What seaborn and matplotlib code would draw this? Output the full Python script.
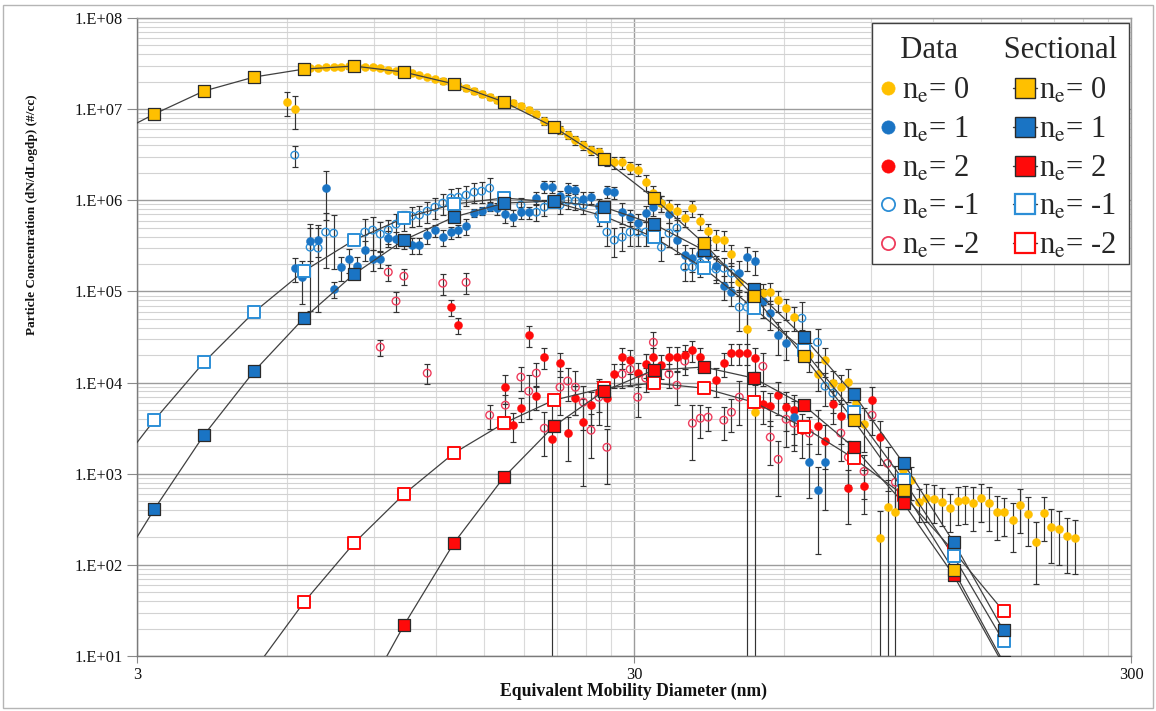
import numpy as np
import pandas as pd
import matplotlib
matplotlib.use("Agg")
import matplotlib.pyplot as plt
import matplotlib.ticker as mticker
from matplotlib.lines import Line2D
from matplotlib.patches import Rectangle
import seaborn as sns

# ---------------- Sectional model (bin diameters in nm, dN/dlogdp) ----------------
sect_diam = [2.575, 3.25, 4.09, 5.16, 6.50, 8.20, 10.33, 13.02, 16.42, 20.69,
             26.08, 32.88, 41.44, 52.24, 65.85, 83.0, 104.6, 131.9, 166.2]
sect_ne0 = [4.58e6, 8.83e6, 1.58e7, 2.25e7, 2.75e7, 2.97e7, 2.55e7, 1.89e7, 1.20e7, 6.37e6,
            2.83e6, 1.06e6, 3.39e5, 8.87e4, 1.95e4, 3.87e3, 659, 87, 8.5]
sect_ne1 = [52.6, 407, 2.65e3, 1.33e4, 5.09e4, 1.55e5, 3.66e5, 6.54e5, 9.32e5, 9.8e5,
            8.42e5, 5.48e5, 2.84e5, 1.06e5, 3.15e4, 7.46e3, 1.30e3, 177, 19.1]
sect_ne2 = [None, None, None, None, None, 2.23, 21.7, 173, 916, 3.32e3,
            8.05e3, 1.37e4, 1.48e4, 1.12e4, 5.65e3, 1.95e3, 474, 76.9, 7.9]
sect_nem1 = [748, 3.87e3, 1.67e4, 5.93e4, 1.67e5, 3.66e5, 6.38e5, 9.08e5, 1.06e6, 9.55e5,
             6.71e5, 3.94e5, 1.80e5, 6.56e4, 2.27e4, 4.73e3, 849, 124, 14.5]
sect_nem2 = [None, None, None, 6.97, 38.8, 173, 596, 1.68e3, 3.58e3, 6.41e3,
             8.69e3, 9.85e3, 8.69e3, 6.09e3, 3.24e3, 1.48e3, 581, 141, 31]

# ---------------- Measured data (instrument channel diameters, nm) ----------------
diam = [6.00, 6.23, 6.45, 6.69, 6.94, 7.19, 7.46, 7.73, 8.02, 8.31,
        8.62, 8.94, 9.26, 9.61, 9.96, 10.33, 10.71, 11.10, 11.51, 11.93,
        12.37, 12.84, 13.29, 13.78, 14.30, 14.81, 15.37, 15.93, 16.53, 17.12,
        17.76, 18.42, 19.08, 19.80, 20.52, 21.29, 22.07, 22.87, 23.72, 24.58,
        25.49, 26.46, 27.38, 28.39, 29.47, 30.52, 31.67, 32.82, 34.06, 35.28,
        36.60, 37.95, 39.32, 40.80, 42.28, 43.87, 45.48, 47.12, 48.87, 50.65,
        52.5, 54.5, 56.4, 58.5, 60.7, 62.9, 65.3, 67.6, 70.2, 72.7,
        75.4, 78.2, 81.0, 84.1, 87.1, 90.4, 93.7, 97.1, 100.7, 104.4,
        108.2, 112.3, 116.2, 120.5, 125.1, 129.6, 134.5, 139.3, 144.6, 149.8,
        155.4, 161.1, 166.9, 173.3, 179.5, 186.3, 193.1, 200.1, 207.5, 215.1,
        223.0, 231.2]
N = None
data_ne0 = [1.20e7, 1.00e7, 2.75e7, 2.83e7, 2.83e7, 2.90e7, 2.90e7, 2.90e7, 2.97e7, 2.97e7,
            2.90e7, 2.90e7, 2.83e7, 2.69e7, 2.62e7, 2.49e7, 2.49e7, 2.37e7, 2.25e7, 2.14e7,
            2.03e7, 1.93e7, 1.79e7, 1.71e7, 1.58e7, 1.47e7, 1.36e7, 1.26e7, 1.23e7, 1.17e7,
            1.08e7, 9.77e6, 8.83e6, 7.40e6, 6.37e6, 5.90e6, 5.20e6, 4.58e6, 4.04e6, 3.56e6,
            3.38e6, 2.83e6, 2.62e6, 2.62e6, 2.31e6, 2.15e6, 1.58e6, 1.20e6, 9.31e5, 8.41e5,
            7.60e5, 6.38e5, 8.20e5, 5.91e5, 4.59e5, 3.75e5, 3.66e5, 2.56e5, 1.26e5, 3.85e4,
            4.73e3, 9.58e4, 9.82e4, 8.03e4, 6.56e4, 5.22e4, 2.92e4, 2.00e4, 1.24e4, 1.76e4,
            9.85e3, 8.89e3, 1.01e4, 5.94e3, 3.49e3, N, 196, 429, 378, 1.09e3,
            849, 486, 538, 525, 486, 418, 499, 512, 474, 538,
            474, 378, 378, 309, 451, 359, 177, 368, 259, 246,
            206, 196]
rel_ne0 = [0.3, 0.4, 0.06, 0.06, 0.06, 0.06, 0.06, 0.06, 0.06, 0.06,
           0.06, 0.06, 0.06, 0.06, 0.06, 0.06, 0.06, 0.06, 0.06, 0.06,
           0.07, 0.07, 0.07, 0.07, 0.07, 0.07, 0.07, 0.07, 0.07, 0.07,
           0.08, 0.08, 0.08, 0.1, 0.1, 0.1, 0.1, 0.12, 0.12, 0.12,
           0.12, 0.15, 0.15, 0.15, 0.15, 0.15, 0.2, 0.2, 0.2, 0.2,
           0.2, 0.2, 0.2, 0.2, 0.2, 0.25, 0.25, 0.25, 0.3, 1.0,
           1.0, 0.25, 0.25, 0.25, 0.25, 0.3, 0.3, 0.35, 0.35, 0.35,
           0.35, 0.35, 0.4, 0.4, 0.5, N, 1.0, 1.0, 1.0, 0.35,
           0.4, 0.4, 0.45, 0.45, 0.45, 0.45, 0.45, 0.45, 0.5, 0.45,
           0.5, 0.5, 0.45, 0.55, 0.5, 0.55, 0.65, 0.5, 0.6, 0.6,
           0.6, 0.6]
data_ne1 = [N, 1.80e5, 1.44e5, 3.56e5, 3.66e5, 1.36e6, 1.06e5, 1.85e5, 2.26e5, 1.90e5,
            2.84e5, 2.26e5, 2.26e5, 3.85e5, 3.75e5, 3.48e5, 3.22e5, 3.22e5, 4.15e5, 4.71e5,
            3.94e5, 4.48e5, 4.71e5, 5.21e5, 7.24e5, 7.60e5, 8.41e5, 8.20e5, 7.06e5, 6.54e5,
            7.41e5, 7.41e5, 1.06e6, 1.43e6, 1.40e6, 1.11e6, 1.33e6, 1.29e6, 1.03e6, 1.08e6,
            8.63e5, 1.26e6, 1.23e6, 7.41e5, 6.54e5, 5.62e5, 7.24e5, 8.41e5, 9.31e5, 7.06e5,
            3.66e5, 2.50e5, 2.32e5, 2.56e5, 2.50e5, 1.90e5, 1.14e5, 9.82e4, 1.59e5, 2.38e5,
            2.15e5, 7.83e4, 5.78e4, 3.31e4, 2.70e4, 4.17e3, N, 1.34e3, 659, 1.34e3] + [N] * 32
rel_ne1 = [N, 0.3, 0.5, 0.4, 0.35, 0.55, 0.2, 0.3, 0.3, 0.25,
           0.25, 0.25, 0.2, 0.2, 0.2, 0.15, 0.2, 0.2, 0.2, 0.15,
           0.2, 0.15, 0.15, 0.2, 0.1, 0.1, 0.1, 0.15, 0.2, 0.2,
           0.15, 0.15, 0.15, 0.15, 0.15, 0.15, 0.15, 0.15, 0.2, 0.15,
           0.2, 0.15, 0.15, 0.25, 0.2, 0.25, 0.2, 0.2, 0.2, 0.2,
           0.3, 0.3, 0.3, 0.3, 0.3, 0.3, 0.3, 0.3, 0.35, 0.3,
           0.3, 0.35, 0.35, 0.4, 0.35, 0.5, N, 0.6, 0.8, 0.7] + [N] * 32
data_ne2 = [N] * 20 + [
            N, 6.73e4, 4.27e4, N, N, N, N, N, 8.89e3, 3.40e3,
            5.24e3, 3.31e4, 7.10e3, 1.90e4, 2.39e3, 1.63e4, 2.79e3, 6.75e3, 3.67e3, 5.65e3,
            7.85e3, 6.75e3, 1.24e4, 1.90e4, 1.76e4, 1.27e4, 1.59e4, 1.90e4, 1.55e4, 1.90e4,
            1.90e4, 2.00e4, 2.27e4, 1.90e4, N, 1.06e4, 1.63e4, 2.10e4, 2.10e4, 2.10e4,
            1.85e4, 5.79e3, 5.51e3, 7.28e3, 5.37e3, 4.98e3, 3.00e3, N, 3.32e3, 2.28e3,
            5.79e3, 4.28e3, 693, N, 729, 6.41e3, 2.52e3, N, N, N] + [N] * 22
rel_ne2 = [N] * 20 + [
           N, 0.2, 0.2, N, N, N, N, N, 0.35, 0.35,
           0.3, 0.25, 0.3, 0.25, 1.5, 0.3, 0.5, 0.35, 0.8, 0.4,
           0.4, 0.5, 0.3, 0.25, 0.3, 0.3, 0.3, 0.25, 0.3, 0.3,
           0.3, 0.3, 0.25, 0.25, N, 0.35, 0.3, 0.25, 0.25, 0.25,
           0.3, 0.4, 0.4, 0.4, 0.45, 0.45, 0.5, N, 0.5, 0.5,
           0.4, 0.5, 0.6, N, 0.5, 0.4, 0.5, N, N, N] + [N] * 22
data_nem1 = [N, 3.13e6, N, 3.06e5, 2.99e5, 4.48e5, 4.36e5, N, N, N,
             4.48e5, 4.71e5, 4.26e5, 4.71e5, 5.48e5, 6.07e5, 6.71e5, 6.88e5, 7.60e5, 8.41e5,
             9.31e5, 1.06e6, 1.08e6, 1.14e6, 1.23e6, 1.26e6, 1.36e6, N, 1.00e6, N,
             8.86e5, N, 7.41e5, 8.41e5, N, 8.86e5, 1.00e6, 9.80e5, 8.86e5, N,
             6.88e5, 4.48e5, 3.66e5, 3.94e5, 4.48e5, 4.48e5, 4.48e5, N, 3.06e5, 4.36e5,
             4.95e5, 1.85e5, 1.85e5, 2.05e5, N, 1.76e5, 1.80e5, 1.59e5, 6.73e4, 6.73e4,
             N, N, N, N, N, N, 5.09e4, N, 2.77e4, 9.12e3,
             7.65e3] + [N] * 31
rel_nem1 = [N, 0.25, N, 0.8, 0.8, 0.6, 0.6, N, N, N,
            0.4, 0.4, 0.35, 0.3, 0.3, 0.25, 0.25, 0.25, 0.25, 0.25,
            0.25, 0.25, 0.25, 0.25, 0.25, 0.25, 0.3, N, 0.2, N,
            0.2, N, 0.2, 0.2, N, 0.2, 0.2, 0.2, 0.2, N,
            0.25, 0.3, 0.35, 0.3, 0.3, 0.3, 0.3, N, 0.3, 0.3,
            0.3, 0.3, 0.3, 0.3, N, 0.3, 0.3, 0.3, 0.45, 0.45,
            N, N, N, N, N, N, 0.5, N, 0.4, 0.4,
            0.4] + [N] * 31
data_nem2 = [N] * 10 + [
             N, N, 2.45e4, 1.63e5, 7.83e4, 1.47e5, N, N, 1.27e4, N,
             1.23e5, N, N, 1.26e5, N, N, 4.39e3, N, 5.65e3, N,
             1.15e4, 8.05e3, 1.27e4, 3.16e3, N, 8.89e3, 1.04e4, 8.89e3, 6.09e3, 3.00e3,
             6.92e3, 1.95e3, N, 1.24e4, 1.40e4, 6.92e3, 1.12e4, 2.77e4, N, 1.24e4,
             9.35e3, 1.72e4, 3.58e3, 4.06e3, 4.17e3, N, 3.87e3, 4.73e3, 6.92e3, N,
             N, 1.51e4, 2.52e3, 1.44e3, 3.96e3, 3.58e3, N, 2.79e3, N, N,
             N, 2.79e3, 1.52e3, N, 1.06e3, 4.39e3, N, 1.30e3, 807, N] + [N] * 22
rel_nem2 = [N] * 10 + [
            N, N, 0.2, 0.2, 0.25, 0.2, N, N, 0.25, N,
            0.25, N, N, 0.25, N, N, 0.3, N, 0.3, N,
            0.3, 0.5, 0.3, 0.5, N, 0.5, 0.4, 0.5, 0.5, 0.5,
            0.5, 0.6, N, 0.3, 0.35, 0.4, 0.3, 0.3, N, 0.3,
            0.4, 0.3, 0.6, 0.4, 0.3, N, 0.4, 0.4, 0.5, N,
            N, 0.4, 0.5, 0.6, 0.5, 0.5, N, 0.5, N, N,
            N, 0.5, 0.5, N, 0.5, 0.4, N, 0.5, 0.5, N] + [N] * 22

labels = ["0", "1", "2", "-1", "-2"]
y_ticks = [1e1, 1e2, 1e3, 1e4, 1e5, 1e6, 1e7, 1e8]
x_ticks = [3, 30, 300]

# ---------------- Styling ----------------
YEL = "#FFC000"
BLU = "#1A74C4"
RED = "#FF0A0A"
BLU_O = "#2C8ED6"
RED_O = "#EE3C5C"
LINE = "#404040"

sns.set_theme(style="white")
plt.rcParams["font.family"] = ["Liberation Serif", "DejaVu Serif"]
plt.rcParams["mathtext.fontset"] = "stix"

fig = plt.figure(figsize=(11.56, 7.11), dpi=100)
ax = fig.add_axes([137 / 1156, 55 / 711, 994 / 1156, 638 / 711])
ax.set_xscale("log")
ax.set_yscale("log")
ax.set_xlim(3, 300)
ax.set_ylim(10, 1e8)

# grid
ax.set_axisbelow(True)
ax.xaxis.set_major_locator(mticker.FixedLocator(x_ticks))
ax.xaxis.set_major_formatter(mticker.FixedFormatter([str(v) for v in x_ticks]))
ax.xaxis.set_minor_locator(mticker.FixedLocator([3 * k for k in range(2, 10)] + [30 * k for k in range(2, 10)]))
ax.xaxis.set_minor_formatter(mticker.NullFormatter())
ax.yaxis.set_major_locator(mticker.FixedLocator(y_ticks))
ax.yaxis.set_minor_locator(mticker.FixedLocator([m * 10.0 ** e for e in range(1, 8) for m in range(2, 10)]))
ax.yaxis.set_minor_formatter(mticker.NullFormatter())
ax.yaxis.set_major_formatter(mticker.FuncFormatter(lambda v, p: "1.E+%02d" % int(round(np.log10(v)))))
ax.grid(which="major", axis="both", color="#9c9c9c", lw=1.0)
ax.grid(which="minor", axis="y", color="#d2d2d2", lw=0.8)
ax.grid(which="minor", axis="x", color="#dadada", lw=0.8)
ax.tick_params(axis="y", which="major", length=7, color="#8a8a8a", width=0.8, pad=3,
               labelsize=11.8, labelcolor="#111111", left=True)
ax.tick_params(axis="x", which="major", length=5, color="#8a8a8a", width=0.8, pad=3,
               labelsize=11.8, labelcolor="#111111", bottom=True)
ax.tick_params(which="minor", length=0)
for s in ["left", "bottom"]:
    ax.spines[s].set_color("#7a7a7a")
    ax.spines[s].set_linewidth(1.0)
for s in ["top", "right"]:
    ax.spines[s].set_color("#9c9c9c")
    ax.spines[s].set_linewidth(1.0)

# ---------------- Measured data with error bars ----------------
def draw_data(y, rel, color, filled):
    df = pd.DataFrame({"d": diam, "y": y, "r": rel}).dropna()
    sig = (df["r"] * df["y"]).to_numpy()
    yy = df["y"].to_numpy()
    lo = np.minimum(sig, yy * (1 - 1e-4))
    ax.errorbar(df["d"], yy, yerr=[lo, sig], fmt="none", ecolor="#333333",
                elinewidth=0.85, capsize=2.0, capthick=0.85, zorder=2)
    if filled:
        sns.scatterplot(data=df, x="d", y="y", ax=ax, marker="o", s=34, color=color,
                        edgecolor=color, linewidth=0.3, zorder=3, legend=False)
    else:
        sns.scatterplot(data=df, x="d", y="y", ax=ax, marker="o", s=30, facecolor="none",
                        edgecolor=color, linewidth=1.0, zorder=3, legend=False)

draw_data(data_nem2, rel_nem2, RED_O, False)
draw_data(data_nem1, rel_nem1, BLU_O, False)
draw_data(data_ne2, rel_ne2, RED, True)
draw_data(data_ne1, rel_ne1, BLU, True)
draw_data(data_ne0, rel_ne0, YEL, True)

# ---------------- Sectional model curves ----------------
def draw_sect(y, face, edge, lw):
    df = pd.DataFrame({"d": sect_diam, "y": y}).dropna()
    sns.lineplot(data=df, x="d", y="y", ax=ax, color=LINE, lw=0.9, sort=False,
                 estimator=None, zorder=4, legend=False)
    sns.scatterplot(data=df, x="d", y="y", ax=ax, marker="s", s=68, facecolor=face,
                    edgecolor=edge, linewidth=lw, zorder=5, legend=False)

draw_sect(sect_nem2, "white", RED, 1.4)
draw_sect(sect_nem1, "white", BLU_O, 1.4)
draw_sect(sect_ne2, RED, "#2a2a2a", 0.9)
draw_sect(sect_ne1, BLU, "#2a2a2a", 0.9)
draw_sect(sect_ne0, YEL, "#2a2a2a", 0.9)

ax.set_xlim(3, 300)
ax.set_ylim(10, 1e8)

# ---------------- Labels ----------------
ax.set_xlabel("Equivalent Mobility Diameter (nm)", fontsize=12.7, fontweight="bold", color="#111111")
ax.xaxis.set_label_coords(0.5, -0.042)
ax.set_ylabel("Particle Concentration (dN/dLogdp) (#/cc)", fontsize=9.5, fontweight="bold", color="#111111")
ax.yaxis.set_label_coords(-0.100, 0.691)

# ---------------- Legend ----------------
data_cols = [(YEL, True), (BLU, True), (RED, True), (BLU_O, False), (RED_O, False)]
sect_cols = [(YEL, "#2a2a2a", 1.0), (BLU, "#2a2a2a", 1.0), (RED, "#2a2a2a", 1.0),
             ("white", BLU_O, 1.6), ("white", RED, 1.6)]
hd = []
for c, f in data_cols:
    hd.append(Line2D([], [], ls="none", marker="o", ms=9.5,
                     mfc=c if f else "none", mec=c, mew=0.5 if f else 1.3))
hs = []
for fc, ec, lw in sect_cols:
    hs.append(Line2D([], [], ls="-", color=LINE, lw=1.0, marker="s", ms=14,
                     mfc=fc, mec=ec, mew=lw))
lab_data = [r"n$_{\mathrm{e}}$= " + v for v in labels]
lab_sect = [r"n$_{\mathrm{e}}$= " + v + "  " for v in labels]
leg = ax.legend(hd + hs, lab_data + lab_sect, ncol=2, loc="upper right",
                bbox_to_anchor=(0.998, 0.992), borderaxespad=0, frameon=True,
                fancybox=False, edgecolor="#404040", framealpha=1, fontsize=22,
                title="  Data      Sectional", title_fontsize=22, handlelength=0.78,
                handletextpad=0.07, columnspacing=1.10, labelspacing=0.31, borderpad=0.12)
leg.get_frame().set_linewidth(1.0)
leg.set_zorder(10)
# push the header row a little lower and open the gap below it
leg.get_title().set_y(-9.5)
leg._legend_box.sep = 15.2

# outer chart border
fig.patches.append(Rectangle((0.003, 0.004), 0.994, 0.989, transform=fig.transFigure,
                             fill=False, edgecolor="#b5b5b5", lw=1.0))

fig.savefig("out.png", dpi=100, facecolor="white")
